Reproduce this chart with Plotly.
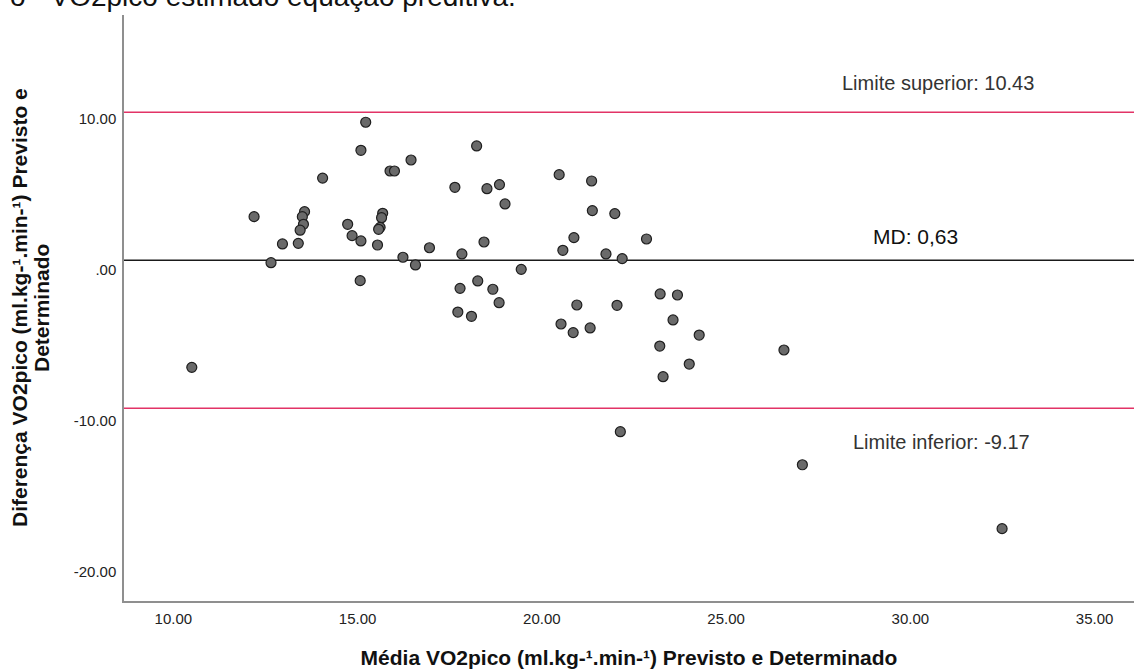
import plotly.graph_objects as go

# ---- data ----
media_x = [15.22, 15.09, 16.45, 15.88, 16.00, 14.05, 17.64, 12.19, 13.56, 13.50,
           13.53, 13.44, 14.73, 14.85, 15.09, 15.68, 15.65, 15.61, 15.57, 12.96,
           13.39, 15.54, 16.95, 16.23, 16.57, 12.65, 17.83, 15.07, 18.23, 18.51,
           18.85, 19.00, 20.47, 21.35, 21.37, 21.98, 18.43, 20.87, 20.57, 22.84,
           21.74, 22.18, 19.44, 17.78, 17.72, 10.50, 18.26, 18.67, 18.84, 18.09,
           20.95, 22.04, 20.52, 20.85, 21.31, 23.21, 23.68, 23.56, 24.27, 23.20,
           24.00, 23.29, 26.57, 22.13, 27.07, 32.49]
diferenca_y = [9.77, 7.91, 7.27, 6.54, 6.54, 6.07, 5.46, 3.52, 3.85, 3.52,
               3.01, 2.62, 3.01, 2.26, 1.91, 3.74, 3.45, 2.81, 2.68, 1.71,
               1.75, 1.64, 1.46, 0.83, 0.32, 0.47, 1.05, -0.72, 8.20, 5.37,
               5.64, 4.36, 6.30, 5.88, 3.92, 3.72, 1.84, 2.13, 1.29, 2.04,
               1.05, 0.74, 0.03, -1.23, -2.80, -6.46, -0.74, -1.29, -2.18, -3.08,
               -2.33, -2.35, -3.59, -4.16, -3.85, -1.60, -1.67, -3.32, -4.32, -5.05,
               -6.24, -7.08, -5.31, -10.72, -12.91, -17.14]

limite_superior = 10.43
media_diferenca = 0.63
limite_inferior = -9.17

x_ticks = [10, 15, 20, 25, 30, 35]
x_tick_labels = ["10.00", "15.00", "20.00", "25.00", "30.00", "35.00"]
y_ticks = [10, 0, -10, -20]
y_tick_labels = ["10.00", ".00", "-10.00", "-20.00"]

titulo = "o - VO2pico estimado equação preditiva."
x_titulo = "Média VO2pico (ml.kg-¹.min-¹) Previsto e Determinado"
y_titulo_1 = "Diferença VO2pico (ml.kg-¹.min-¹) Previsto e"
y_titulo_2 = "Determinado"
txt_sup = "Limite superior: 10.43"
txt_md = "MD: 0,63"
txt_inf = "Limite inferior: -9.17"

FONT = "Liberation Sans, Arial, sans-serif"
RED = "#E23366"

fig = go.Figure()
fig.add_trace(go.Scatter(
    x=media_x, y=diferenca_y, mode="markers",
    marker=dict(size=10, color="#6a6a6a", line=dict(color="#1e1e1e", width=1.2)),
    showlegend=False, hoverinfo="x+y"))

for val, col in [(limite_superior, RED), (media_diferenca, "#1a1a1a"), (limite_inferior, RED)]:
    fig.add_shape(type="line", xref="paper", x0=0, x1=1, yref="y", y0=val, y1=val,
                  line=dict(color=col, width=1.5), layer="below")

fig.add_annotation(text=txt_sup, x=30.74, y=12.35, xref="x", yref="y", showarrow=False,
                   font=dict(family=FONT, size=20, color="#333333"))
fig.add_annotation(text=txt_md, x=30.15, y=2.19, xref="x", yref="y", showarrow=False,
                   font=dict(family=FONT, size=21, color="#111111"))
fig.add_annotation(text=txt_inf, x=30.85, y=-11.38, xref="x", yref="y", showarrow=False,
                   font=dict(family=FONT, size=20, color="#333333"))

# partially cropped title at the very top (as in the reference)
fig.add_annotation(text=titulo, xref="paper", yref="paper", x=0, y=1, xanchor="left",
                   yanchor="bottom", xshift=-116, yshift=1, showarrow=False,
                   font=dict(family=FONT, size=28, color="#111111"))

# y-axis title (two lines, placed like the reference)
for txt, xs in [(y_titulo_1, -105), (y_titulo_2, -83)]:
    fig.add_annotation(text="<b>" + txt + "</b>", xref="paper", yref="paper", x=0, y=0.5,
                       xanchor="center", yanchor="middle", xshift=xs, textangle=-90,
                       showarrow=False, font=dict(family=FONT, size=21, color="#111111"))

fig.update_layout(
    width=1134, height=669,
    margin=dict(l=124, r=0, t=15, b=68),
    paper_bgcolor="white", plot_bgcolor="white",
    font=dict(family=FONT, color="#222222"),
    xaxis=dict(range=[8.66, 36.07], tickvals=x_ticks, ticktext=x_tick_labels,
               showgrid=False, zeroline=False, showline=True, linecolor="#8f8f8f",
               linewidth=1.5, ticks="", automargin=False, ticklabelstandoff=3,
               tickfont=dict(size=15, color="#222222"),
               title=dict(text="<b>" + x_titulo + "</b>", font=dict(size=21, color="#111111"),
                          standoff=27)),
    yaxis=dict(range=[-21.93, 16.87], tickvals=y_ticks, ticktext=y_tick_labels,
               showgrid=False, zeroline=False, showline=True, linecolor="#8f8f8f",
               linewidth=1.5, ticks="", automargin=False, ticklabelstandoff=3,
               tickfont=dict(size=15, color="#222222")),
)

# remove the browser's default page margin so the figure sits at the window's corner
fig.write_html("out.html", config={"displayModeBar": False},
               post_script="document.body.style.margin='0';")
